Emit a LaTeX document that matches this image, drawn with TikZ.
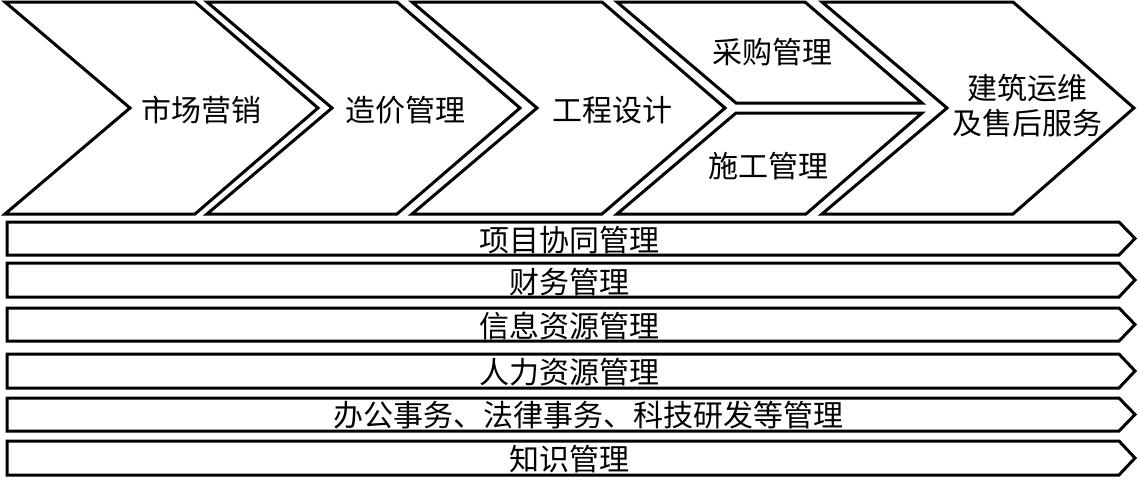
\documentclass[tikz,border=0pt]{standalone}
\usepackage{fontspec}
\newfontfamily\cjkfont{Noto Sans CJK SC}
\usepackage{tikz}

\begin{document}
\begin{tikzpicture}[x=1pt, y=-1pt,
        shell/.style={draw=black, line width=3pt, line join=miter, fill=white},
        lbl/.style={font=\cjkfont\fontsize{30}{35}\selectfont, align=center, inner sep=0pt}]
        \useasboundingbox (0,0) rectangle (1139,479);
        % value chain
        \draw[shell] (5,2) -- (195,2) -- (318,108) -- (195,214) -- (5,214) -- (130,108) -- cycle;
        \draw[shell] (207,2) -- (397,2) -- (520,108) -- (397,214) -- (207,214) -- (332,108) -- cycle;
        \draw[shell] (412,2) -- (602,2) -- (725,108) -- (602,214) -- (412,214) -- (537,108) -- cycle;
        \draw[shell] (617,2) -- (805,2) -- (922,103) -- (736,103) -- cycle;
        \draw[shell] (736,113) -- (922,113) -- (806,214) -- (617,214) -- cycle;
        \draw[shell] (822,2) -- (1013,2) -- (1134,108) -- (1013,214) -- (822,214) -- (947,108) -- cycle;
        \node[lbl] (mkt)  at (201,110) {市场营销};
        \node[lbl] (cost) at (405,110) {造价管理};
        \node[lbl] (dsgn) at (612,110) {工程设计};
        \node[lbl] (buy)  at (772,52)  {采购管理};
        \node[lbl] (site) at (768,166) {施工管理};
        \node[lbl] (oper) at (1027,106) {建筑运维\\及售后服务};
        % support functions
        \draw[shell] (7,222) -- (1119,222) -- (1135,238.5) -- (1119,255) -- (7,255) -- cycle;
        \draw[shell] (7,263) -- (1119,263) -- (1135,280) -- (1119,297) -- (7,297) -- cycle;
        \draw[shell] (7,308) -- (1119,308) -- (1135,324.5) -- (1119,341) -- (7,341) -- cycle;
        \draw[shell] (7,354) -- (1119,354) -- (1135,371) -- (1119,388) -- (7,388) -- cycle;
        \draw[shell] (7,398) -- (1119,398) -- (1135,414.5) -- (1119,431) -- (7,431) -- cycle;
        \draw[shell] (7,441) -- (1119,441) -- (1135,458) -- (1119,475) -- (7,475) -- cycle;
        \node[lbl] (proj) at (569,240) {项目协同管理};
        \node[lbl] (fin)  at (569,282) {财务管理};
        \node[lbl] (info) at (569,326) {信息资源管理};
        \node[lbl] (hr)   at (569,372) {人力资源管理};
        \node[lbl] (adm)  at (588,415) {办公事务、法律事务、科技研发等管理};
        \node[lbl] (know) at (569,459) {知识管理};
      \end{tikzpicture}
\end{document}
